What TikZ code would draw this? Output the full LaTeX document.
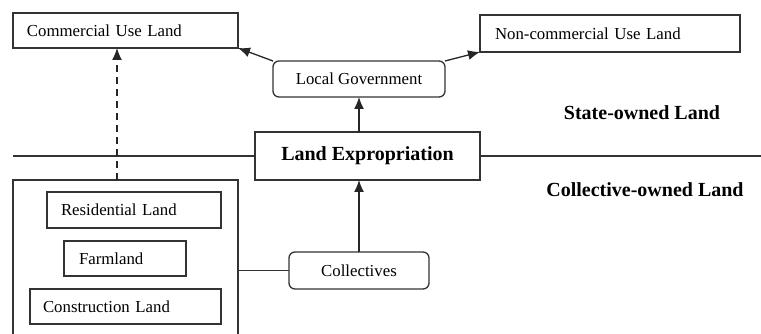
\documentclass[tikz,border=0pt]{standalone}
\usepackage{fontspec}
\setmainfont{Liberation Serif}
\usetikzlibrary{arrows.meta,positioning,calc}
\begin{document}
\begin{tikzpicture}[x=1pt,y=-1pt,
  line width=1.3pt,
  every node/.style={inner sep=0pt,outer sep=0pt},
  landbox/.style={draw=black!80,anchor=north west,font=\fontsize{16.8}{19}\selectfont,align=left},
  roundbox/.style={draw=black!80,rounded corners=6pt,anchor=north west,font=\fontsize{16.8}{19}\selectfont,align=center},
  heading/.style={font=\bfseries\fontsize{20}{22}\selectfont},
  arr/.style={draw=black!85,-{Latex[length=12pt,width=10pt]}}
]
\useasboundingbox (0,0) rectangle (761,334);

% upper (state-owned) boxes
\node[landbox,minimum width=225pt,minimum height=35pt,text width=197pt,inner xsep=14pt] (com) at (13,13) {Commercial Use Land};
\node[landbox,minimum width=260pt,minimum height=37pt,text width=230pt,inner xsep=15pt] (noncom) at (480,15) {Non-commercial Use Land};
\node[roundbox,minimum width=172pt,minimum height=36pt] (gov) at (273,61) {Local Government};

% expropriation box on the boundary line
\node[draw=black!80,anchor=north west,minimum width=225pt,minimum height=48pt,heading] (exp) at (255,132) {Land Expropriation};
\draw[black!80] (13,156) coordinate (lineL) -- (exp.west);
\draw[black!80] (exp.east) -- (761,156) coordinate (lineR);

% region labels
\node[heading] (state) at (642,113) {State-owned Land};
\node[heading] (coll) at (645,190) {Collective-owned Land};

% collective land group (open at the bottom)
\coordinate (gbl) at (13,334);
\coordinate (gtl) at (13,180);
\coordinate (gtr) at (238,180);
\coordinate (gbr) at (238,334);
\draw[black!80] (gbl) -- (gtl) -- (gtr) -- (gbr);
\node[landbox,minimum width=174pt,minimum height=36pt,text width=146pt,inner xsep=14pt] (res) at (47,192) {Residential Land};
\node[landbox,minimum width=122pt,minimum height=35pt,text width=92pt,inner xsep=15pt] (farm) at (64,241) {Farmland};
\node[landbox,minimum width=191pt,minimum height=35pt,text width=165pt,inner xsep=13pt] (cons) at (30,289) {Construction Land};

\node[roundbox,minimum width=140pt,minimum height=37pt] (colls) at (289,252) {Collectives};

% connectors
\coordinate (gmid) at (238,270.5);
\draw[black!80] (gmid) -- (colls.west);
\draw[arr] (colls.north) -- (colls.north |- exp.south);
\draw[arr] (gov.south |- exp.north) -- (gov.south);
\draw[arr] (gov.north west) -- (com.south east);
\draw[arr] (gov.north east) -- (noncom.south west);
\coordinate (dashfoot) at (117,180);
\draw[arr,dashed,dash pattern=on 7pt off 5pt] (dashfoot) -- (dashfoot |- com.south);
\end{tikzpicture}
\end{document}
